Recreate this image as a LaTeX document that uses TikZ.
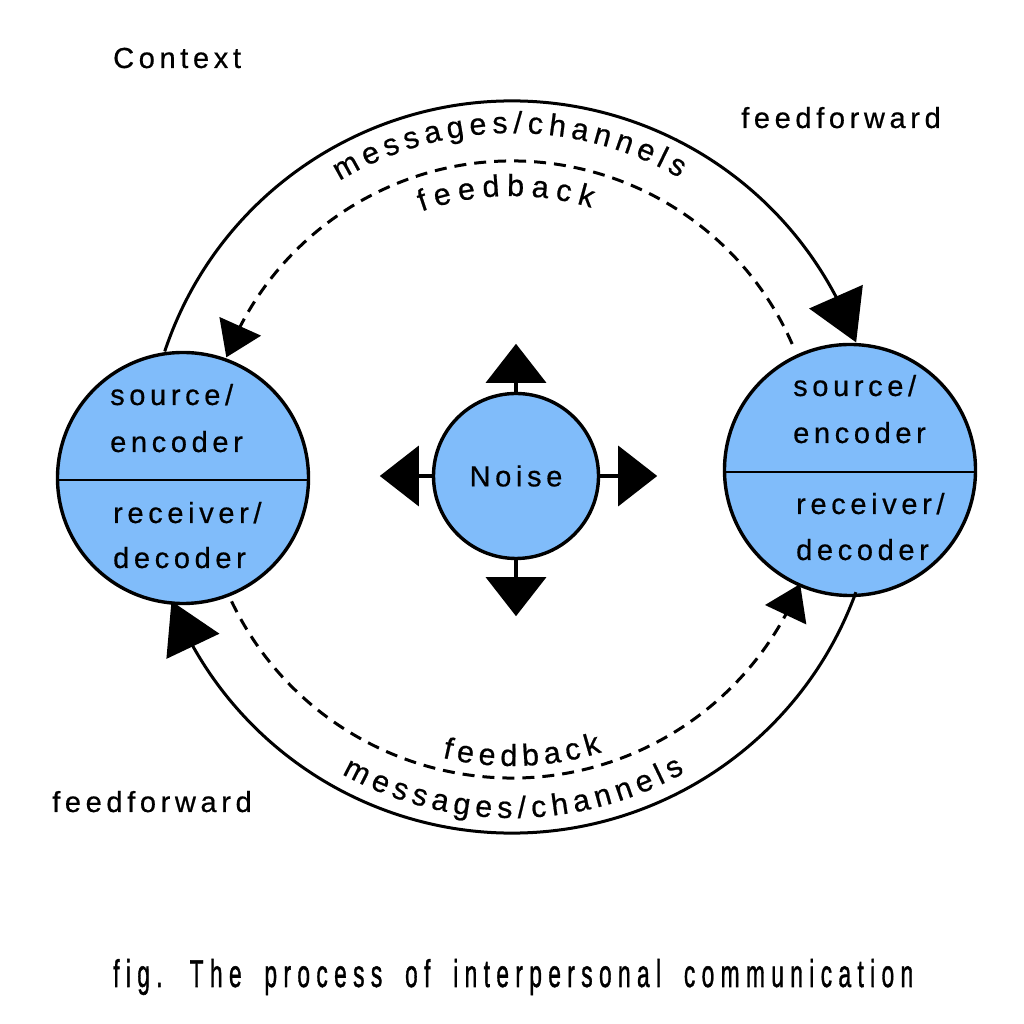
\documentclass[tikz,border=0pt]{standalone}
\usepackage{fontspec}
\usepackage{graphicx}
\setmainfont{Liberation Sans}
\newfontfamily\lblfont[LetterSpace=16,FakeBold=0.6]{Liberation Sans}
\newfontfamily\arcfont[FakeBold=0.6]{Liberation Sans}
\newfontfamily\capfont[LetterSpace=28,WordSpace=1.8,FakeBold=1.4]{Liberation Sans}
\newcommand\curvefont{\arcfont\fontsize{30.5}{36}\selectfont}
\usetikzlibrary{arrows.meta,decorations.text,calc,bending}
\definecolor{cblue}{HTML}{80BCFA}
\begin{document}
\begin{tikzpicture}[x=1pt,y=1pt,
  party/.style={circle, draw=black, line width=3.4pt, fill=cblue, minimum size=251pt, inner sep=0pt},
  noisebox/.style={circle, draw=black, line width=3.4pt, fill=cblue, minimum size=165pt, inner sep=0pt,
     font=\lblfont\fontsize{29}{34}\selectfont},
  lbl/.style={font=\lblfont\fontsize{29}{34}\selectfont, anchor=base west, inner sep=0pt},
  flow/.style={line width=3pt},
  fb/.style={line width=3pt, dash pattern=on 12pt off 8pt},
  bigtip/.style={-{Triangle[length=50pt,width=58pt]}},
  smalltip/.style={-{Triangle[length=34pt,width=45pt]}},
  noisetip/.style={line width=3.4pt, -{Triangle[length=39pt,width=60pt]}},
  divider/.style={line width=1.3pt}
]
\useasboundingbox (0,0) rectangle (1024,1024);
\fill[white] (0,0) rectangle (1024,1024);

% participants
\node[party] (L) at (183,546) {};
\node[party] (R) at (850,554) {};
\node[noisebox] (N) at (516,548) {Noise};

\draw[divider] ([yshift=-2pt]L.west) -- ([yshift=-2pt]L.east);
\draw[divider] ([yshift=-2pt]R.west) -- ([yshift=-2pt]R.east);

\node[lbl] (Ls) at (110,619) {source/};
\node[lbl] (Le) at (110,572) {encoder};
\node[lbl] (Lr) at (113,501) {receiver/};
\node[lbl] (Ld) at (113,456) {decoder};
\node[lbl] (Rs) at (793,628) {source/};
\node[lbl] (Re) at (793,581) {encoder};
\node[lbl] (Rr) at (796,510) {receiver/};
\node[lbl] (Rd) at (796,464) {decoder};

% noise arrows
\coordinate (nU) at ([yshift=48pt]N.north);
\coordinate (nD) at ([yshift=-56pt]N.south);
\coordinate (nL) at ([xshift=-52pt]N.west);
\coordinate (nR) at ([xshift=57pt]N.east);
\draw[noisetip] (N) -- (nU);
\draw[noisetip] (N) -- (nD);
\draw[noisetip] (N) -- (nL);
\draw[noisetip] (N) -- (nR);

% flows
\coordinate (O) at (512,557);
\coordinate (tsA) at ($(O)+(161.6:366pt)$);
\coordinate (tdA) at ($(O)+(23.7:306pt)$);
\coordinate (bdA) at ($(O)+(-154.4:311pt)$);
\coordinate (bsA) at ($(O)+(-20:366pt)$);
\draw[flow,bigtip] (tsA) arc[start angle=161.6, end angle=19.9, radius=366pt];
\draw[fb,smalltip] (tdA) arc[start angle=23.7, end angle=159, radius=306pt];
\draw[fb,smalltip] (bdA) arc[start angle=-154.4, end angle=-22.1, radius=311pt];
\draw[flow,bigtip] (bsA) arc[start angle=-20, end angle=-158.5, radius=366pt];

% curved labels
\coordinate (tmA) at ($(O)+(121.1:334pt)$);
\coordinate (tfA) at ($(O)+(109.5:271pt)$);
\coordinate (bfA) at ($(O)+(-103.5:299pt)$);
\coordinate (bmA) at ($(O)+(-119:351pt)$);
\path[decorate, decoration={text along path, text={|\curvefont|messages/channels}, text align=fit to path}]
  (tmA) arc[start angle=121.1, end angle=59.9, radius=334pt];
\path[decorate, decoration={text along path, text={|\curvefont|feedback}, text align=fit to path}]
  (tfA) arc[start angle=109.5, end angle=73, radius=271pt];
\path[decorate, decoration={text along path, text={|\curvefont|feedback}, text align=fit to path}]
  (bfA) arc[start angle=-103.5, end angle=-72.5, radius=299pt];
\path[decorate, decoration={text along path, text={|\curvefont|messages/channels}, text align=fit to path}]
  (bmA) arc[start angle=-119, end angle=-60.5, radius=351pt];

% free labels
\node[lbl] (ctx) at (113,956) {Context};
\node[lbl] (ffT) at (741,896) {feedforward};
\node[lbl] (ffB) at (52,212) {feedforward};

\node[anchor=base west, inner sep=0pt] (cap) at (113,37)
  {\resizebox{800pt}{28pt}{\capfont fig. The process of interpersonal communication}};
\end{tikzpicture}
\end{document}
